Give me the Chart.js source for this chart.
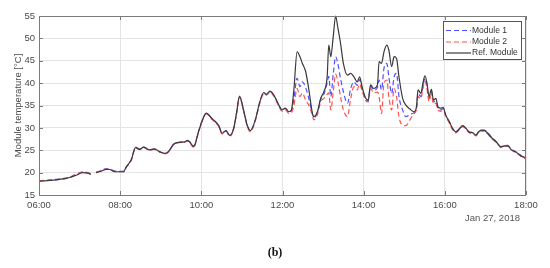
<!DOCTYPE html>
<html>
<head>
<meta charset="utf-8">
<script src="https://cdn.jsdelivr.net/npm/chart.js@4"></script>
<style>
html,body{margin:0;padding:0;background:#fff;}
#wrap{position:relative;width:550px;height:268px;}
</style>
</head>
<body>
<div id="wrap"><canvas id="c" width="550" height="268"></canvas></div>
<script>
// time of day in hours
const times = [
 6.00,6.20,6.42,6.60,6.75,6.91,7.08,7.20,7.28,7.34,
 7.41,7.55,7.65,7.74,7.86,7.98,8.08,8.15,8.27,8.38,
 8.48,8.58,8.72,8.85,8.97,9.10,9.19,9.32,9.48,9.60,
 9.66,9.72,9.81,9.93,10.02,10.12,10.26,10.43,10.51,10.61,
 10.70,10.80,10.87,10.94,11.05,11.13,11.21,11.33,11.44,11.54,
 11.60,11.69,11.79,11.91,11.99,12.07,12.16,12.22,12.28,12.36,
 12.43,12.49,12.57,12.65,12.73,12.77,12.86,12.94,13.02,13.10,
 13.14,13.19,13.25,13.31,13.36,13.43,13.50,13.60,13.68,13.76,
 13.84,13.90,13.97,14.05,14.11,14.17,14.25,14.34,14.38,14.44,
 14.50,14.57,14.62,14.69,14.75,14.81,14.87,14.96,15.04,15.14,
 15.24,15.30,15.34,15.41,15.46,15.51,15.56,15.61,15.67,15.72,
 15.78,15.83,15.90,15.96,16.02,16.11,16.19,16.27,16.35,16.44,
 16.52,16.60,16.69,16.77,16.83,16.89,16.97,17.06,17.14,17.22,
 17.31,17.38,17.47,17.55,17.63,17.72,17.80,17.88,17.96,18.00
];
const module1 = [
 18.1,18.3,18.5,18.6,18.9,19.6,20.1,20.0,19.7,null,
 20.1,20.5,20.9,20.8,20.4,20.3,20.3,21.2,22.7,25.5,
 25.2,25.6,25.1,25.2,24.7,24.3,24.7,26.3,26.8,26.9,
 27.1,26.8,25.9,29.2,31.6,33.2,32.1,30.4,28.8,29.4,
 28.3,30.0,33.4,36.9,33.6,30.6,29.4,31.8,35.7,37.8,
 37.4,38.1,37.2,35.0,34.0,34.3,33.5,33.8,36.5,41.1,
 39.2,40.3,39.0,36.5,33.4,32.3,33.4,36.3,37.5,40.0,
 41.5,37.0,42.0,45.9,44.5,41.0,38.1,35.5,38.8,40.3,
 39.5,40.8,38.4,36.4,36.0,39.3,38.4,39.0,40.7,38.5,
 43.3,44.4,41.4,37.7,41.4,42.2,37.0,34.0,32.5,33.0,
 33.4,34.3,37.6,37.0,39.3,41.0,39.4,36.5,38.0,35.8,
 36.0,34.3,34.0,34.3,32.8,31.3,29.9,29.1,29.7,30.4,
 29.9,29.1,28.9,28.4,29.1,29.5,29.5,28.9,28.0,27.3,
 26.5,25.8,26.0,26.1,25.3,24.8,24.4,23.8,23.4,23.3
];
const module2 = [
 18.2,18.3,18.4,18.7,19.0,19.6,20.2,20.0,19.6,null,
 20.0,20.5,20.8,20.7,20.3,20.2,20.2,21.2,22.8,25.7,
 25.3,25.7,25.0,25.3,24.6,24.2,24.6,26.3,26.7,26.8,
 27.1,26.7,25.6,29.0,31.4,33.1,31.9,30.3,28.6,29.2,
 28.1,29.8,33.2,36.8,33.4,30.4,29.1,31.6,35.5,37.6,
 37.3,38.0,37.0,34.8,33.7,34.0,33.2,33.4,35.0,38.8,
 37.0,37.8,36.2,35.0,33.0,31.8,33.0,35.8,36.6,37.5,
 37.8,34.0,38.0,42.0,40.5,37.0,34.0,32.5,36.5,39.2,
 38.5,39.8,38.0,36.1,35.8,38.8,37.8,38.0,37.0,33.2,
 40.0,40.7,37.0,34.0,38.8,37.0,32.5,30.6,30.5,31.8,
 33.2,34.0,37.0,36.5,38.8,40.5,38.8,36.0,37.5,35.3,
 35.5,34.0,33.7,34.0,32.6,31.1,29.6,28.9,29.5,30.3,
 29.7,28.9,28.7,28.2,28.9,29.3,29.2,28.6,27.7,27.1,
 26.3,25.6,25.9,25.9,25.1,24.6,24.2,23.6,23.3,23.1
];
const refModule = [
 18.1,18.2,18.4,18.6,18.9,19.4,20.0,19.9,19.6,null,
 20.0,20.4,20.7,20.7,20.2,20.2,20.2,21.3,22.8,25.6,
 25.2,25.7,25.1,25.3,24.7,24.3,24.7,26.4,26.8,26.9,
 27.2,26.8,25.8,29.1,31.6,33.3,32.1,30.5,28.8,29.4,
 28.3,30.0,33.5,37.1,33.6,30.6,29.4,31.8,35.8,37.9,
 37.5,38.2,37.3,35.1,34.0,34.4,33.6,34.0,38.5,47.0,
 45.9,44.4,42.6,38.5,33.6,32.5,33.6,36.6,38.1,41.4,
 48.5,45.9,50.4,55.0,52.6,48.9,44.4,41.8,42.2,41.4,
 40.3,41.4,38.8,36.6,36.2,39.6,38.8,39.6,44.8,44.4,
 47.0,48.5,47.4,43.7,45.9,45.5,41.4,36.6,35.1,34.2,
 33.6,34.7,38.5,37.7,40.0,41.6,40.0,37.0,38.6,36.2,
 36.6,34.7,34.4,34.6,32.9,31.4,29.9,29.1,29.7,30.5,
 29.9,29.1,28.9,28.4,29.1,29.5,29.4,28.8,27.9,27.3,
 26.4,25.7,26.0,26.0,25.2,24.7,24.3,23.7,23.4,23.2
];
const seriesNames = ['Module 1','Module 2','Ref. Module'];
const xTickHours = [6,8,10,12,14,16,18];
const yTickValues = [15,20,25,30,35,40,45,50,55];
const dateLabel = 'Jan 27, 2018';
const yTitle = 'Module temperature [°C]';
const caption = '(b)';

const pts = arr => times.map((t,i)=>({x:t,y:arr[i]}));
const FONT = "'Liberation Sans', Arial, sans-serif";

const boxPlugin = {
  id:'boxPlugin',
  afterDatasetsDraw(chart){
    const {ctx, chartArea:a, scales} = chart;
    ctx.save();
    ctx.strokeStyle = '#7a7a7a';
    ctx.lineWidth = 1;
    ctx.strokeRect(Math.round(a.left)+0.5, Math.round(a.top)+0.5, Math.round(a.right-a.left)-1, Math.round(a.bottom-a.top));
    ctx.beginPath();
    yTickValues.forEach(v=>{
      const y = Math.round(scales.y.getPixelForValue(v))+0.5;
      ctx.moveTo(a.left, y); ctx.lineTo(a.left+4, y);
      ctx.moveTo(a.right, y); ctx.lineTo(a.right-4, y);
    });
    xTickHours.forEach(h=>{
      const x = Math.round(scales.x.getPixelForValue(h))+0.5;
      ctx.moveTo(x, a.bottom); ctx.lineTo(x, a.bottom-4);
      ctx.moveTo(x, a.top); ctx.lineTo(x, a.top+4);
    });
    ctx.stroke();
    // legend box
    const lx = 443, ly = 21, lw = 78, lh = 38;
    ctx.fillStyle = '#fff';
    ctx.fillRect(lx, ly, lw, lh);
    ctx.strokeStyle = '#555';
    ctx.strokeRect(lx+0.5, ly+0.5, lw, lh);
    const rows = [30, 41.5, 52.5];
    chart.data.datasets.forEach((ds,i)=>{
      ctx.beginPath();
      ctx.strokeStyle = ds.borderColor;
      ctx.lineWidth = 1.2;
      ctx.setLineDash(ds.borderDash || []);
      ctx.moveTo(446, rows[i]+0.5); ctx.lineTo(471, rows[i]+0.5);
      ctx.stroke();
      ctx.setLineDash([]);
      ctx.fillStyle = '#333';
      ctx.font = "8.5px " + FONT;
      ctx.textBaseline = 'middle';
      ctx.textAlign = 'left';
      ctx.fillText(ds.label, 472, rows[i]+0.5);
    });
    ctx.fillStyle = '#555';
    ctx.font = "9.5px " + FONT;
    ctx.textAlign = 'right';
    ctx.textBaseline = 'middle';
    ctx.fillText(dateLabel, 520, 218.5);
    ctx.fillStyle = '#111';
    ctx.font = "bold 12px 'Liberation Serif', 'DejaVu Serif', serif";
    ctx.textAlign = 'center';
    ctx.fillText(caption, 275, 253);
    ctx.restore();
  }
};

new Chart(document.getElementById('c'), {
  type:'line',
  data:{
    datasets:[
      {label:seriesNames[0], data:pts(module1), borderColor:'#5252ff', borderWidth:1.2, borderDash:[5,3], pointRadius:0, cubicInterpolationMode:'monotone', spanGaps:false, order:2},
      {label:seriesNames[1], data:pts(module2), borderColor:'#ff5252', borderWidth:1.2, borderDash:[5,3], pointRadius:0, cubicInterpolationMode:'monotone', spanGaps:false, order:1},
      {label:seriesNames[2], data:pts(refModule), borderColor:'#3a3a3a', borderWidth:1.2, pointRadius:0, cubicInterpolationMode:'monotone', spanGaps:false, order:0}
    ]
  },
  options:{
    responsive:false,
    animation:false,
    clip:3,
    layout:{padding:{left:0,right:24,top:16,bottom:0}},
    plugins:{legend:{display:false}, tooltip:{enabled:false}},
    scales:{
      x:{
        type:'linear', min:6, max:18,
        afterFit(s){ s.height = 73; },
        afterBuildTicks(s){ s.ticks = xTickHours.map(v=>({value:v})); },
        grid:{color:'#e4e4e4', drawTicks:false, lineWidth:1},
        border:{display:false},
        ticks:{padding:5, maxRotation:0, autoSkip:false, color:'#4a4a4a', font:{family:FONT, size:9.5},
          callback:v=>String(v).padStart(2,'0')+':00'}
      },
      y:{
        min:15, max:55,
        afterFit(s){ s.width = 39; },
        afterBuildTicks(s){ s.ticks = yTickValues.map(v=>({value:v})); },
        grid:{color:'#e4e4e4', drawTicks:false, lineWidth:1},
        border:{display:false},
        ticks:{padding:4, color:'#4a4a4a', font:{family:FONT, size:9.5}},
        title:{display:true, text:yTitle, color:'#4a4a4a', font:{family:FONT, size:9.5}, padding:{top:13,bottom:0}}
      }
    }
  },
  plugins:[boxPlugin]
});
</script>
</body>
</html>
